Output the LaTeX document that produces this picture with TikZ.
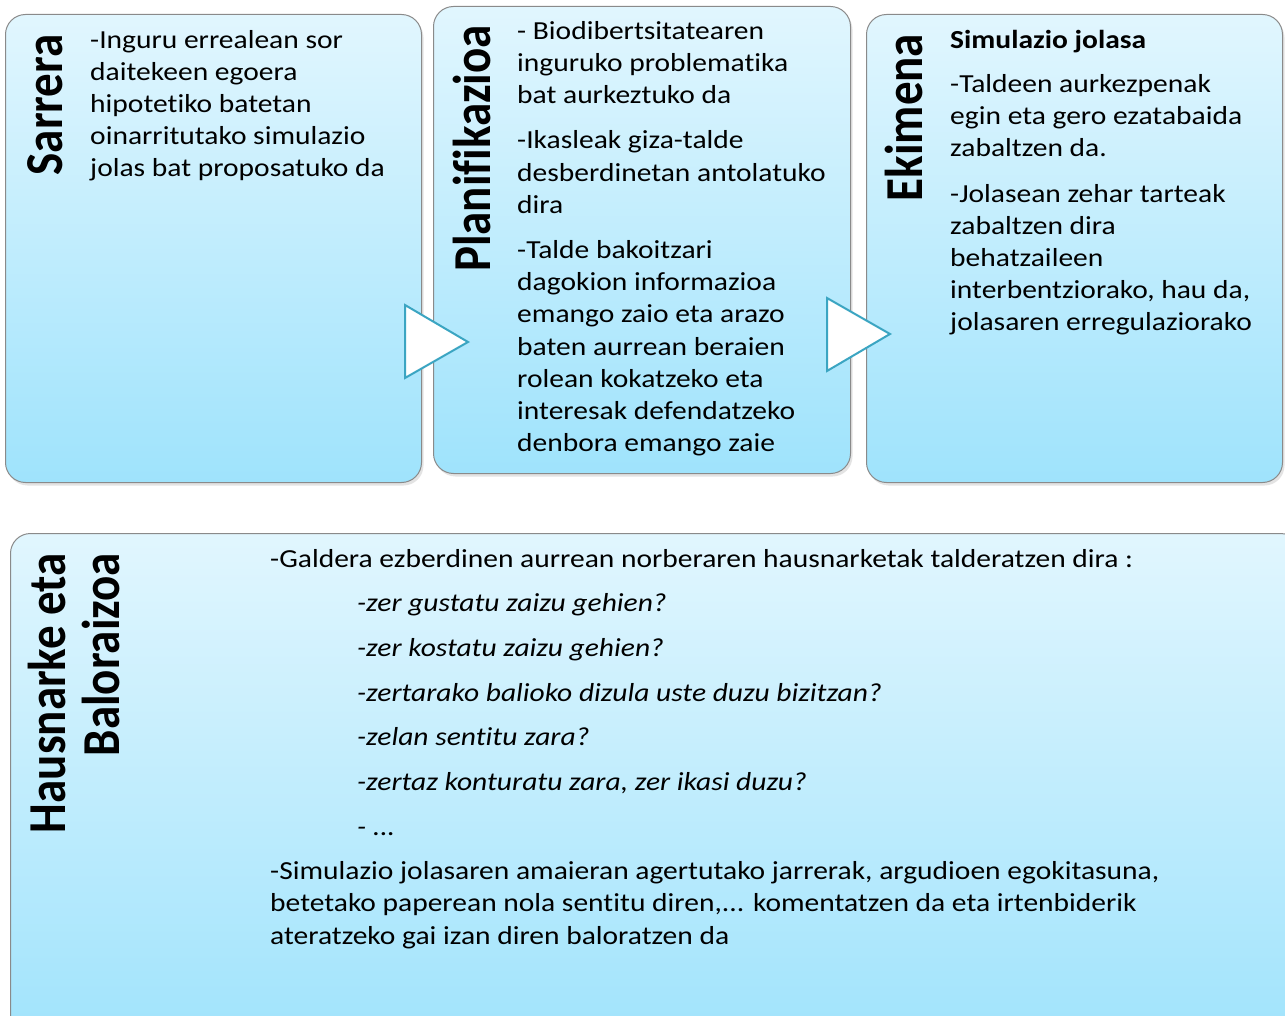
\documentclass[tikz,border=0pt]{standalone}
\usepackage{fontspec}
\setmainfont[Ligatures={NoCommon,NoContextual,NoRequired}]{Carlito}
\usetikzlibrary{shadows}
\definecolor{boxtop}{HTML}{E1F6FE}
\definecolor{boxbot}{HTML}{9FE3FC}
\definecolor{boxline}{HTML}{8A8A8A}
\definecolor{tealline}{HTML}{3BA5C2}
\begin{document}
\begin{tikzpicture}[x=1pt,y=1pt,
  panel/.style={draw=boxline, line width=1pt, rounded corners=20pt,
    top color=boxtop, bottom color=boxbot, anchor=north west, inner sep=0pt,
    drop shadow={shadow xshift=2pt, shadow yshift=-3pt, opacity=0.22}},
  body/.style={anchor=north west, inner sep=0pt, align=left, xscale=1.135,
    font=\fontsize{26}{32.1}\selectfont, text=black},
  vtitle/.style={xscale=1.135, rotate=90, inner sep=0pt, font=\bfseries\fontsize{47}{45.8}\selectfont},
  arrowtri/.style={fill=white, draw=tealline, line width=2pt, line join=miter}
]
\clip (0,0) rectangle (1285,-1016);

% panels
\node[panel, minimum width=416pt, minimum height=468pt] (sarrera) at (5,-14) {};
\node[panel, minimum width=417pt, minimum height=467pt] (planif) at (433,-6) {};
\node[panel, minimum width=416pt, minimum height=468pt] (ekimena) at (866,-14) {};
\node[panel, minimum width=1290pt, minimum height=520pt] (hausnar) at (10,-533) {};

% arrows between panels
\draw[arrowtri] (405,-305) -- (405,-378) -- (468,-342) -- cycle;
\draw[arrowtri] (827,-298) -- (827,-371) -- (890,-334) -- cycle;

% titles
\node[vtitle, anchor=base] (t1) at (62,-105) {Sarrera};
\node[vtitle, anchor=base] (t2) at (490,-148.5) {Planifikazioa};
\node[vtitle, anchor=base] (t3) at (922,-117.5) {Ekimena};
\node[vtitle, align=right, anchor=east] (t4) at (81.6,-553) {\strut Hausnarke eta\\\strut Baloraizoa};

% texts
\node[body] (b1) at (90,-25.5) {\strut -Inguru errealean sor\\
daitekeen egoera\\
hipotetiko batetan\\
oinarritutako simulazio\\
jolas bat proposatuko da};

\node[body] (b2) at (517,-16.5) {\strut - Biodibertsitatearen\\
inguruko problematika\\
bat aurkeztuko da\\[13.5pt]
-Ikasleak giza-talde\\
desberdinetan antolatuko\\
dira\\[13.5pt]
-Talde bakoitzari\\
dagokion informazioa\\
emango zaio eta arazo\\
baten aurrean beraien\\
rolean kokatzeko eta\\
interesak defendatzeko\\
denbora emango zaie};

\node[body] (b3) at (950,-25.5) {\strut\textbf{Simulazio jolasa}\\[12pt]
-Taldeen aurkezpenak\\
egin eta gero ezatabaida\\
zabaltzen da.\\[13.5pt]
-Jolasean zehar tarteak\\
zabaltzen dira\\
behatzaileen\\
interbentziorako, hau da,\\
jolasaren erregulaziorako};

\node[body] (b4) at (270,-544.5) {\strut -Galdera ezberdinen aurrean norberaren hausnarketak talderatzen dira :\\[12pt]
\hspace*{76.6pt}\textit{-zer gustatu zaizu gehien?}\\[12.8pt]
\hspace*{76.6pt}\textit{-zer kostatu zaizu gehien?}\\[12.8pt]
\hspace*{76.6pt}\textit{-zertarako balioko dizula uste duzu bizitzan?}\\[12.8pt]
\hspace*{76.6pt}\textit{-zelan sentitu zara?}\\[12.8pt]
\hspace*{76.6pt}\textit{-zertaz konturatu zara, zer ikasi duzu?}\\[12.8pt]
\hspace*{76.6pt}\textit{- ...}\\[12pt]
-Simulazio jolasaren amaieran agertutako jarrerak, argudioen egokitasuna,\\
betetako paperean nola sentitu diren,... komentatzen da eta irtenbiderik\\
ateratzeko gai izan diren baloratzen da};
\end{tikzpicture}
\end{document}
